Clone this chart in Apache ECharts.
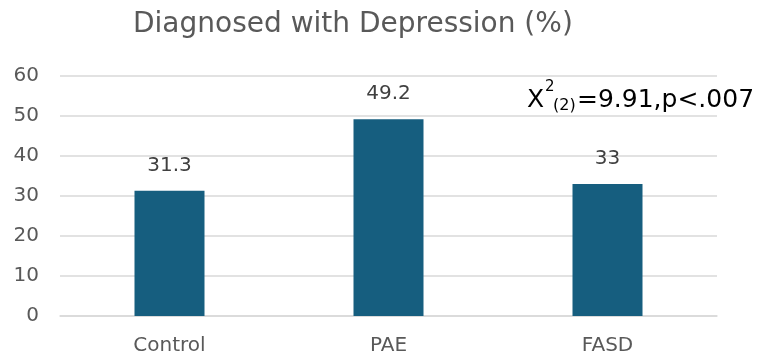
<!DOCTYPE html>
<html>
<head>
<meta charset="utf-8">
<script src="https://cdn.jsdelivr.net/npm/echarts@6/dist/echarts.min.js"></script>
<style>
  html, body { margin: 0; padding: 0; background: #fff; }
  #chart { width: 762px; height: 359px; }
</style>
</head>
<body>
<div id="chart"></div>
<script>
// Share of each group diagnosed with depression
const categories = ['Control', 'PAE', 'FASD'];
const depressionPct = [31.3, 49.2, 33];
const yTicks = { min: 0, max: 60, interval: 10 };
const titleText = 'Diagnosed with Depression (%)';

const FONT = '"DejaVu Sans", "Open Sans", sans-serif';
const chart = echarts.init(document.getElementById('chart'), null, { renderer: 'canvas' });

chart.setOption({
  animation: false,
  backgroundColor: '#ffffff',
  title: {
    text: titleText,
    left: 128,
    top: 6,
    textStyle: { fontFamily: FONT, fontSize: 28, fontWeight: 'normal', color: '#595959' }
  },
  grid: { left: 60, right: 45, top: 76, bottom: 43, containLabel: false },
  xAxis: {
    type: 'category',
    data: categories,
    axisTick: { show: false },
    axisLine: { show: true, lineStyle: { color: '#d9d9d9', width: 1.5 } },
    axisLabel: { fontFamily: FONT, fontSize: 20, color: '#595959', margin: 20 }
  },
  yAxis: {
    type: 'value',
    min: yTicks.min,
    max: yTicks.max,
    interval: yTicks.interval,
    axisLine: { show: false },
    axisTick: { show: false },
    axisLabel: { fontFamily: FONT, fontSize: 20, color: '#595959', margin: 21 },
    splitLine: { lineStyle: { color: '#d9d9d9', width: 1.5 } }
  },
  series: [{
    type: 'bar',
    data: depressionPct,
    barWidth: 70,
    itemStyle: { color: '#165e7f' },
    label: {
      show: true,
      position: 'top',
      distance: 15,
      fontFamily: FONT,
      fontSize: 20,
      color: '#404040'
    }
  }],
  // chi-square test result: X, superscript 2, subscript (2), then the statistic
  graphic: [
    { type: 'text', style: { text: 'X', x: 527, y: 100, verticalAlign: 'middle', font: '25px ' + FONT, fill: '#000' } },
    { type: 'text', style: { text: '2', x: 545, y: 87, verticalAlign: 'middle', font: '15px ' + FONT, fill: '#000' } },
    { type: 'text', style: { text: '(2)', x: 553, y: 106, verticalAlign: 'middle', font: '16px ' + FONT, fill: '#000' } },
    { type: 'text', style: { text: '=9.91,p<.007', x: 577, y: 100, verticalAlign: 'middle', font: '25px ' + FONT, fill: '#000' } }
  ]
});
</script>
</body>
</html>
